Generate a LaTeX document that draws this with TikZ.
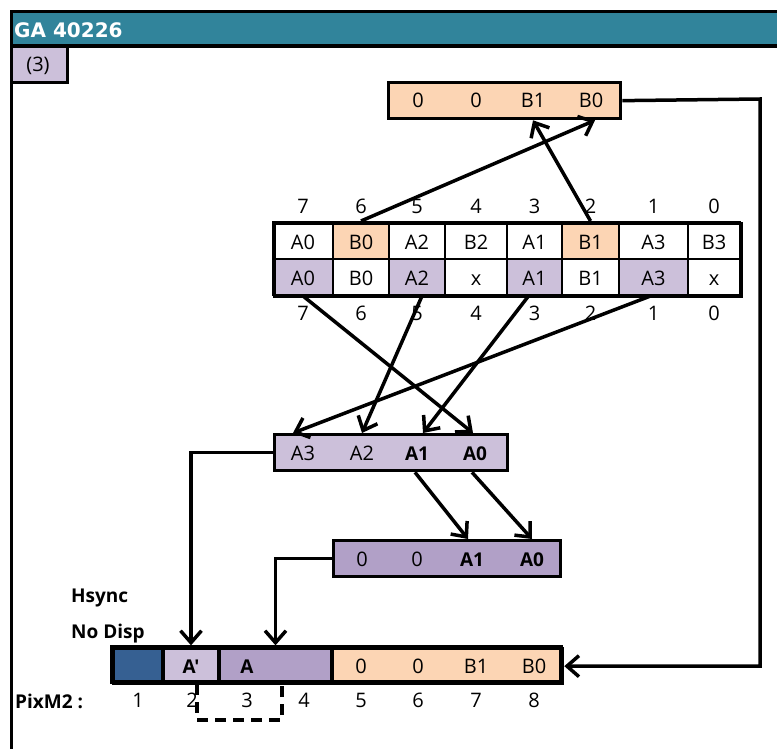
\documentclass[tikz,border=0pt]{standalone}
\usepackage{fontspec}
\newfontfamily\bodyfont{Open Sans}
\newfontfamily\titlefont{DejaVu Sans}
\usetikzlibrary{arrows.meta}
\definecolor{titleteal}{HTML}{31849B}
\definecolor{lilac}{HTML}{CCC0DA}
\definecolor{lilacdark}{HTML}{B1A0C7}
\definecolor{peach}{HTML}{FCD5B4}
\definecolor{darkblue}{HTML}{366092}
\begin{document}
\begin{tikzpicture}[x=1pt,y=-1pt,
  every node/.style={font=\bodyfont\fontsize{20}{23}\selectfont, inner sep=0pt},
  txt/.style={text height=18pt, text depth=0pt},
  bd/.style={txt, font=\bodyfont\fontsize{19}{22}\selectfont\bfseries},
  cell/.style={draw, line width=2pt, minimum height=36.5pt, text height=18pt, text depth=0pt},
  bcell/.style={draw, line width=3.3pt, minimum height=35pt, text height=18pt, text depth=0pt},
  boxn/.style={draw, line width=3.3pt, minimum height=36pt, anchor=north west},
  arr/.style={line width=3.5pt, -{Straight Barb[length=12pt,width=21pt,line width=3.5pt]}},
  dashline/.style={line width=3.5pt, dash pattern=on 11pt off 7pt}]
\useasboundingbox (0,0) rectangle (777,749);
\fill[white] (0,0) rectangle (777,749);
% frame and title
\node[draw, line width=3.3pt, anchor=north west, minimum width=800pt, minimum height=780pt] (frame) at (9.5,10) {};
\node[draw, line width=3.3pt, fill=titleteal, anchor=north west, minimum width=800pt, minimum height=34.5pt] (title) at (9.5,10) {};
\node[anchor=west, text=white, text height=14.5pt, text depth=0pt, font=\titlefont\bfseries\fontsize{20}{23}\selectfont] (ttl) at (14,30.5) {GA 40226};
\node[draw, line width=3.3pt, fill=lilac, anchor=north west, minimum width=56pt, minimum height=36.5pt] (stepbox) at (9.5,44.5) {};
\node[txt] (steptxt) at (38,63) {(3)};
% top box
\node[boxn, fill=peach, minimum width=232pt] (top) at (387,81) {};
\node[txt] (t3) at (418,99) {0};
\node[txt] (t2) at (476,99) {0};
\node[txt] (tB1) at (533,99) {B1};
\node[txt] (tB0) at (591,99) {B0};
% table header
\node[txt] (h7) at (303,204.5) {7};
\node[txt] (h6) at (361,204.5) {6};
\node[txt] (h5) at (417,204.5) {5};
\node[txt] (h4) at (476,204.5) {4};
\node[txt] (h3) at (534.5,204.5) {3};
\node[txt] (h2) at (590.5,204.5) {2};
\node[txt] (h1) at (653.5,204.5) {1};
\node[txt] (h0) at (714,204.5) {0};
% row 1
\node[cell, fill=white, minimum width=60pt] (r1c7) at (303,240.25) {A0};
\node[cell, fill=peach, minimum width=56pt] (r1c6) at (361,240.25) {B0};
\node[cell, fill=white, minimum width=56pt] (r1c5) at (417,240.25) {A2};
\node[cell, fill=white, minimum width=62pt] (r1c4) at (476,240.25) {B2};
\node[cell, fill=white, minimum width=55pt] (r1c3) at (534.5,240.25) {A1};
\node[cell, fill=peach, minimum width=57pt] (r1c2) at (590.5,240.25) {B1};
\node[cell, fill=white, minimum width=69pt] (r1c1) at (653.5,240.25) {A3};
\node[cell, fill=white, minimum width=52pt] (r1c0) at (714,240.25) {B3};
% row 2
\node[cell, fill=lilac, minimum width=60pt] (r2c7) at (303,276.75) {A0};
\node[cell, fill=white, minimum width=56pt] (r2c6) at (361,276.75) {B0};
\node[cell, fill=lilac, minimum width=56pt] (r2c5) at (417,276.75) {A2};
\node[cell, fill=white, minimum width=62pt] (r2c4) at (476,276.75) {x};
\node[cell, fill=lilac, minimum width=55pt] (r2c3) at (534.5,276.75) {A1};
\node[cell, fill=white, minimum width=57pt] (r2c2) at (590.5,276.75) {B1};
\node[cell, fill=lilac, minimum width=69pt] (r2c1) at (653.5,276.75) {A3};
\node[cell, fill=white, minimum width=52pt] (r2c0) at (714,276.75) {x};
\node[draw, line width=3.3pt, anchor=north west, minimum width=467pt, minimum height=73pt] (tbl) at (273,222) {};
% bottom numbers
\node[txt] (b7) at (303,311.5) {7};
\node[txt] (b6) at (361,311.5) {6};
\node[txt] (b5) at (417,311.5) {5};
\node[txt] (b4) at (476,311.5) {4};
\node[txt] (b3) at (534.5,311.5) {3};
\node[txt] (b2) at (590.5,311.5) {2};
\node[txt] (b1) at (653.5,311.5) {1};
\node[txt] (b0) at (714,311.5) {0};
% mid box
\node[boxn, fill=lilac, minimum width=233pt] (mid) at (273,433) {};
\node[txt] (mA3) at (303,451) {A3};
\node[txt] (mA2) at (362,451) {A2};
\node[bd] (mA1) at (417,451) {A1};
\node[bd] (mA0) at (475,451) {A0};
% low box
\node[boxn, fill=lilacdark, minimum width=227pt] (low) at (332,539) {};
\node[txt] (l3) at (362,557) {0};
\node[txt] (l2) at (417,557) {0};
\node[bd] (lA1) at (472,557) {A1};
\node[bd] (lA0) at (532,557) {A0};
% bottom box
\node[bcell, fill=darkblue, minimum width=51pt] (cBlue) at (137.5,664.5) {};
\node[bcell, fill=lilac, minimum width=56pt, font=\bodyfont\fontsize{19}{22}\selectfont\bfseries] (cAp) at (191,664.5) {A'};
\node[bcell, fill=lilacdark, minimum width=113pt] (cA) at (275.5,664.5) {};
\node[bcell, fill=peach, minimum width=229pt] (cPe) at (446.5,664.5) {};
\node[draw, line width=3.3pt, minimum width=449pt, minimum height=35pt, anchor=north west] (bot) at (112,647) {};
\node[bd] (cAtxt) at (247,664.5) {A};
\node[txt] (p5) at (361,664.5) {0};
\node[txt] (p6) at (418,664.5) {0};
\node[txt] (p7) at (476,664.5) {B1};
\node[txt] (p8) at (534,664.5) {B0};
% labels
\node[bd, anchor=west] (hsync) at (71,593) {Hsync};
\node[bd, anchor=west] (nodisp) at (71,629.5) {No Disp};
\node[bd, anchor=west] (pixm) at (15,699.5) {PixM2 :};
\node[txt] (n1) at (138,698.5) {1};
\node[txt] (n2) at (192,698.5) {2};
\node[txt] (n3) at (247,698.5) {3};
\node[txt] (n4) at (304,698.5) {4};
\node[txt] (n5) at (361,698.5) {5};
\node[txt] (n6) at (418,698.5) {6};
\node[txt] (n7) at (476,698.5) {7};
\node[txt] (n8) at (534,698.5) {8};
% connectors table -> top
\draw[arr] (r1c6.north) -- ([xshift=4pt]tB0 |- top.south);
\draw[arr] (r1c2.north) -- (tB1 |- top.south);
% table -> mid
\draw[arr] (r2c7.south) -- ([xshift=-2pt]mA0 |- mid.north);
\draw[arr] ([xshift=5pt]r2c5.south) -- (mA2 |- mid.north);
\draw[arr] ([xshift=-6pt]r2c3.south) -- ([xshift=6pt]mA1 |- mid.north);
\draw[arr] ([xshift=-3pt]r2c1.south) -- ([xshift=-10pt]mA3 |- mid.north);
% mid -> low
\draw[arr] ([xshift=-2pt]mA1 |- mid.south) -- ([xshift=-4pt]lA1 |- low.north);
\draw[arr] ([xshift=-3pt]mA0 |- mid.south) -- (lA0 |- low.north);
% left connectors
\draw[arr] (mid.west) -| (cAp.north);
\draw[arr] (low.west) -| (cA.north);
% right connector
\coordinate (rc) at (760,99);
\draw[arr] (top.east) -- (rc) |- (bot.east);
% dashed bracket
\coordinate (dA) at (197,684);
\coordinate (dB) at (197,720);
\coordinate (dC) at (282,720);
\coordinate (dD) at (282,684);
\draw[dashline] (dA) -- (dB) -- (dC) -- (dD);
\end{tikzpicture}
\end{document}
